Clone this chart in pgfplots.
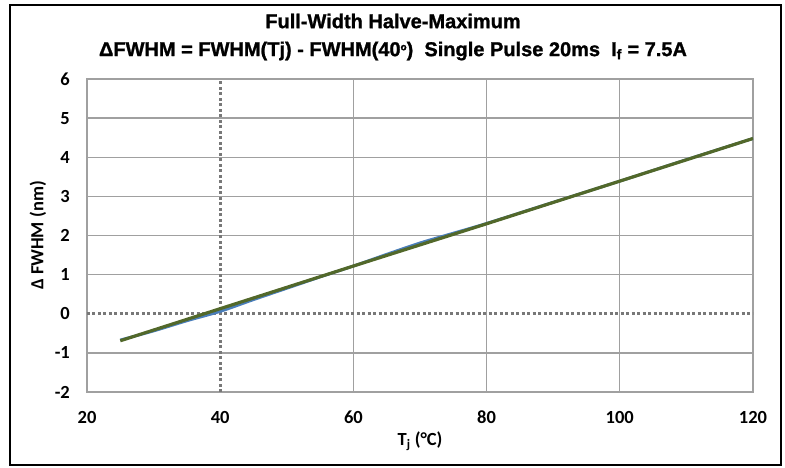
\documentclass[border=0pt]{standalone}
\usepackage{fontspec}
\setmainfont{Carlito}
\newfontfamily\titlefont[FakeBold=1.2]{Liberation Sans Bold}
\usepackage{pgfplots}
\pgfplotsset{compat=1.18}

\definecolor{gridgray}{RGB}{160,160,160}
\definecolor{dotgray}{RGB}{120,120,120}
\definecolor{measblue}{RGB}{74,126,187}
\definecolor{fitgreen}{RGB}{82,104,42}

\begin{document}
\begin{tikzpicture}
\useasboundingbox (-87pt,-75pt) rectangle (698pt,392pt);
\draw[black, line width=1.6pt] (-77pt,-73pt) rectangle (694pt,387pt);
\begin{axis}[
    scale only axis,
    width=666pt, height=313pt,
    xmin=20, xmax=120,
    ymin=-2, ymax=6,
    xtick={20,40,...,120},
    ytick={-2,-1,...,6},
    minor xtick={60,80,100,120},
    minor ytick={-2,-1,1,2,3,4,5,6},
    xminorgrids, yminorgrids,
    minor grid style={gridgray, line width=1.3pt},
    major tick length=0pt, minor tick length=0pt,
    axis line style={gridgray, line width=1.3pt},
    /pgf/number format/assume math mode=true,
    tick label style={font=\fontsize{18.5}{22}\selectfont\bfseries},
    xticklabel style={anchor=center, yshift=-25pt},
    yticklabel style={anchor=east, inner sep=0pt, xshift=-17pt},
    xlabel={T\textsubscript{j} (°C)},
    ylabel={Δ FWHM (nm)},
    label style={font=\fontsize{18.5}{22}\selectfont\bfseries},
    xlabel style={at={(axis description cs:0.5,-0.1565)}, anchor=center},
    ylabel style={at={(axis description cs:-0.0736,0.5)}, anchor=center},
]
% reference lines at 40 degC and 0 nm
\addplot[dotgray, line width=3pt, dash pattern=on 3pt off 2.5pt]
    coordinates {(40,-2) (40,6)};
\addplot[dotgray, line width=3pt, dash pattern=on 3pt off 2.5pt]
    coordinates {(20,0) (120,0)};

% measured
\addplot[measblue, line width=2.8pt, smooth]
    coordinates {
        (25,-0.67) (30,-0.44) (35,-0.18) (40,0.06) (45,0.36)
        (50,0.65) (55,0.94) (60,1.22) (65,1.52) (70,1.81)
        (75,2.06) (80,2.31) (90,2.85) (100,3.39) (110,3.94) (120,4.48)
    };
% fit
\addplot[fitgreen, line width=3.2pt]
    coordinates {
        (25,-0.69) (40,0.13) (60,1.22) (80,2.30) (100,3.39) (120,4.48)
    };
\end{axis}
\node[font=\titlefont\fontsize{20}{24}\selectfont] at (306pt,371pt)
    {Full-Width Halve-Maximum};
\node[font=\titlefont\fontsize{20}{24}\selectfont] at (306pt,341pt)
    {ΔFWHM = FWHM(Tj) - FWHM(40\raisebox{0.55ex}{\fontsize{10}{10}\selectfont o})\ \ Single Pulse 20ms\ \ I\textsubscript{f} = 7.5A};
\end{tikzpicture}
\end{document}
